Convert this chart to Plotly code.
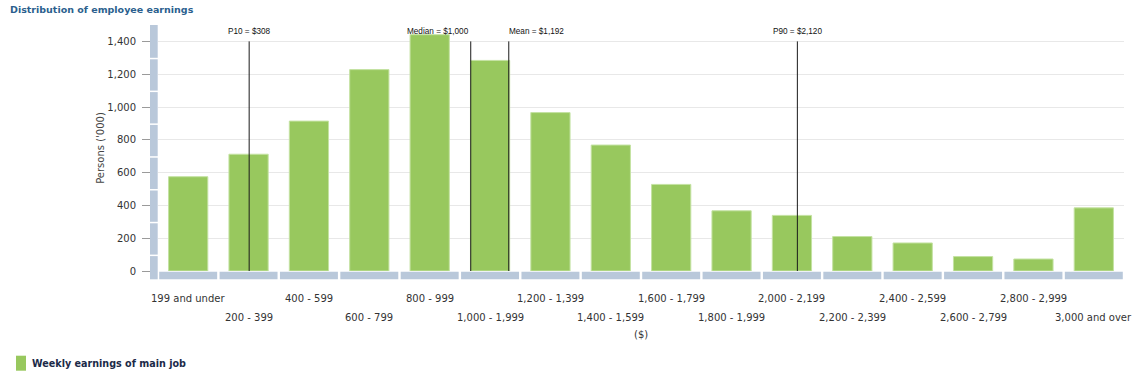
import plotly.graph_objects as go

# ---------------- data ----------------
categories = ["199 and under", "200 - 399", "400 - 599", "600 - 799", "800 - 999",
              "1,000 - 1,999", "1,200 - 1,399", "1,400 - 1,599", "1,600 - 1,799",
              "1,800 - 1,999", "2,000 - 2,199", "2,200 - 2,399", "2,400 - 2,599",
              "2,600 - 2,799", "2,800 - 2,999", "3,000 and over"]
persons = [575, 712, 914, 1228, 1441, 1284, 966, 768, 528, 367, 339, 210, 171, 88, 73, 385]
series_name = "Weekly earnings of main job"

marker_labels = ["P10 = $308", "Median = $1,000", "Mean = $1,192", "P90 = $2,120"]
marker_pos = [1.01, 4.68, 5.31, 10.09]   # position on category scale
marker_top = 1400
y_ticks = [0, 200, 400, 600, 800, 1000, 1200, 1400]

title_text = "Distribution of employee earnings"
y_title = "Persons ('000)"
x_title = "($)"

# ---------------- layout constants ----------------
W, H = 1148, 381
ML, MR, MT, MB = 158, 24, 25, 110
PW, PH = W - ML - MR, H - MT - MB
Y_MAX = 1500
n = len(categories)

FONT = "DejaVu Sans"
BAR = "#98c85e"
BAND = "#b9c8da"


def px_x(px):
    return (px - ML) / PW


def px_y(py):
    return (H - MB - py) / PH


fig = go.Figure()
fig.add_trace(go.Bar(
    x=list(range(n)), y=persons, width=0.65, name=series_name,
    marker=dict(color=BAR, line=dict(color="#c4e2a2", width=1)),
    hoverinfo="y", showlegend=False,
))

anchors = ["center", "right", "left", "center"]
for p, lab, anc in zip(marker_pos, marker_labels, anchors):
    fig.add_trace(go.Scatter(x=[p, p], y=[0, marker_top], mode="lines",
                             line=dict(color="#1a1a1a", width=1), showlegend=False,
                             hoverinfo="skip"))
    fig.add_annotation(x=p, y=marker_top, xref="x", yref="y", text=lab, showarrow=False,
                       xanchor=anc, yanchor="bottom", yshift=3,
                       xshift={"center": 0, "right": 0, "left": -2}[anc],
                       font=dict(family="Liberation Sans Narrow, Liberation Sans", size=8.2, color="#111"))

# category labels (staggered)
for i, c in enumerate(categories):
    fig.add_annotation(x=i, y=0, xref="x", yref="paper", text=c, showarrow=False,
                       yanchor="middle", yshift=-(27 if i % 2 == 0 else 46),
                       font=dict(family=FONT, size=10, color="#333"))
fig.add_annotation(x=0.5, y=0, xref="paper", yref="paper", text=x_title, showarrow=False,
                   yanchor="middle", yshift=-63, font=dict(family=FONT, size=10, color="#333"))

# title
fig.add_annotation(x=px_x(8), y=px_y(9), xref="paper", yref="paper", text="<b>" + title_text + "</b>",
                   showarrow=False, xanchor="left", yanchor="middle",
                   font=dict(family=FONT, size=9.5, color="#2b5f8e"))

# legend (drawn manually to match the compact swatch layout)
fig.add_annotation(x=px_x(30), y=px_y(363), xref="paper", yref="paper",
                   text="<b>" + series_name + "</b>", showarrow=False, xanchor="left",
                   yanchor="middle", font=dict(family=FONT, size=9.6, color="#1b2a48"))

shapes = [dict(type="rect", xref="paper", yref="paper", x0=px_x(16), x1=px_x(26),
               y0=px_y(370.7), y1=px_y(355.7), fillcolor=BAR, line_width=0)]

# decorative bands
band_bottom = 279.3
for i in range(n):
    x0 = (i + 0.02) / n
    x1 = (i + 0.98) / n
    shapes.append(dict(type="rect", xref="paper", yref="paper", x0=x0, x1=x1,
                       y0=px_y(band_bottom), y1=px_y(271.7), fillcolor=BAND, line_width=0,
                       layer="above"))
# vertical band with gaps at odd hundreds
cuts = [Y_MAX] + [v for v in range(1300, 0, -200)]
ys_px = [H - MB - v / Y_MAX * PH for v in cuts] + [band_bottom]
for a, b in zip(ys_px[:-1], ys_px[1:]):
    shapes.append(dict(type="rect", xref="paper", yref="paper", x0=px_x(150), x1=px_x(157.7),
                       y0=px_y(b), y1=px_y(a + (1.5 if a > ys_px[0] else 0)),
                       fillcolor=BAND, line_width=0, layer="above"))

fig.update_layout(
    width=W, height=H, margin=dict(l=ML, r=MR, t=MT, b=MB, pad=0),
    paper_bgcolor="white", plot_bgcolor="white",
    shapes=shapes,
    showlegend=False,
    xaxis=dict(range=[-0.5, n - 0.5], showticklabels=False, showgrid=False, zeroline=False,
               showline=False, ticks="", fixedrange=True),
    yaxis=dict(range=[0, Y_MAX], tickvals=y_ticks, tickformat=",", ticks="outside", ticklen=15,
               tickcolor="#9a9a9a", ticklabelstandoff=4, showgrid=True, gridcolor="#e8e8e8",
               zeroline=False, showline=False,
               tickfont=dict(family=FONT, size=10, color="#333"),
               title=dict(text=y_title, standoff=0, font=dict(family=FONT, size=10, color="#444"))),
    bargap=0.35,
)

fig.write_html("out.html")
